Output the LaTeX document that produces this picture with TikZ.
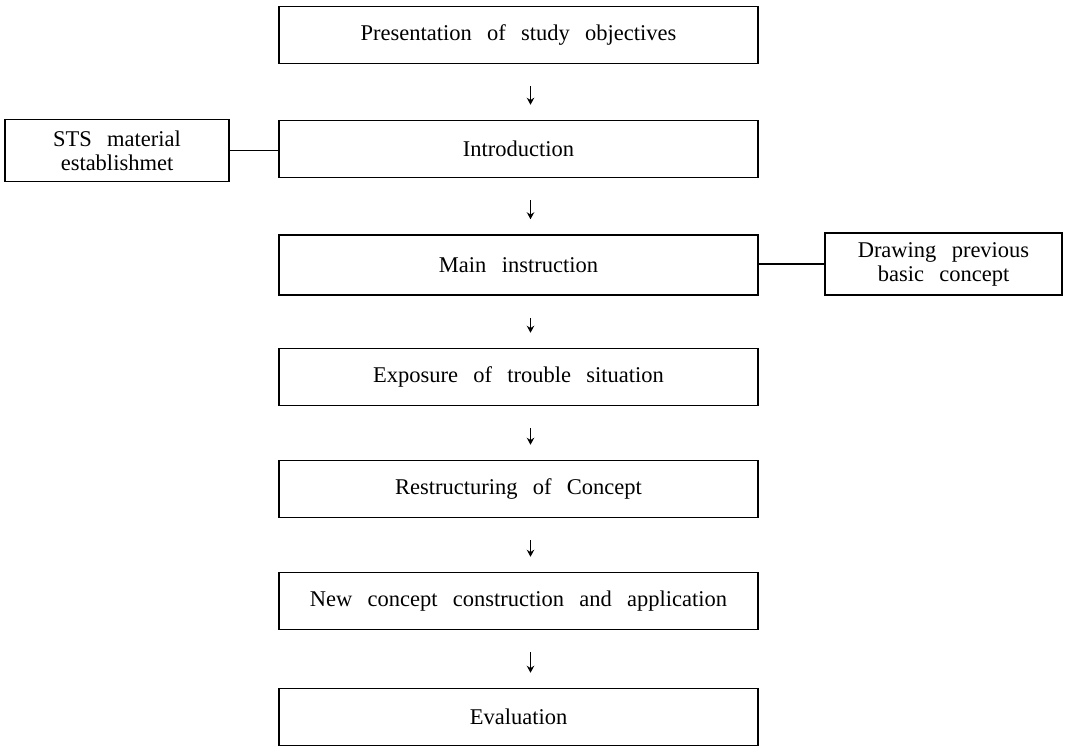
\documentclass[tikz,border=0pt]{standalone}
\usepackage{fontspec}
\setmainfont{Liberation Serif}
\usetikzlibrary{arrows.meta}
\newcommand\wg{\hspace{0.68em}}
\begin{document}
\begin{tikzpicture}[x=1pt,y=-1pt,
  mainbox/.style={draw,line width=1.5pt,minimum width=479pt,minimum height=57pt,inner sep=0pt,font=\fontsize{22.5}{25}\selectfont,anchor=center},
  sidebox/.style={draw,line width=1.5pt,minimum height=62pt,inner sep=0pt,align=center,font=\fontsize{22.5}{24}\selectfont},
  flow/.style={line width=1.5pt,-{Stealth[length=7pt,width=7.5pt]}},
  link/.style={line width=1.3pt}]
\useasboundingbox (0,0) rectangle (1067,746);
\node[mainbox] (b1) at (518.5,35) {Presentation\wg of\wg study\wg objectives};
\node[mainbox] (b2) at (518.5,149) {Introduction};
\node[mainbox,minimum height=60pt] (b3) at (518.5,265) {Main\wg instruction};
\node[mainbox] (b4) at (518.5,377) {Exposure\wg of\wg trouble\wg situation};
\node[mainbox] (b5) at (518.5,489) {Restructuring\wg of\wg Concept};
\node[mainbox] (b6) at (518.5,601) {New\wg concept\wg construction\wg and\wg application};
\node[mainbox] (b7) at (518.5,717) {Evaluation};
\node[sidebox,minimum width=224pt] (s1) at (117,150.5) {STS\wg material\\establishmet};
\node[sidebox,minimum width=237pt] (s2) at (943.5,264) {Drawing\wg previous\\basic\wg concept};
\draw[link] (s1.east) -- (s1.east -| b2.west);
\draw[link] (b3.east |- s2.west) -- (s2.west);
\foreach \a/\b in {b1/b2,b2/b3,b3/b4,b4/b5,b5/b6,b6/b7}{
  \draw[flow,shorten <=22pt,shorten >=15pt] ([xshift=12pt]\a.south) -- ([xshift=12pt]\b.north);
}
\end{tikzpicture}
\end{document}
